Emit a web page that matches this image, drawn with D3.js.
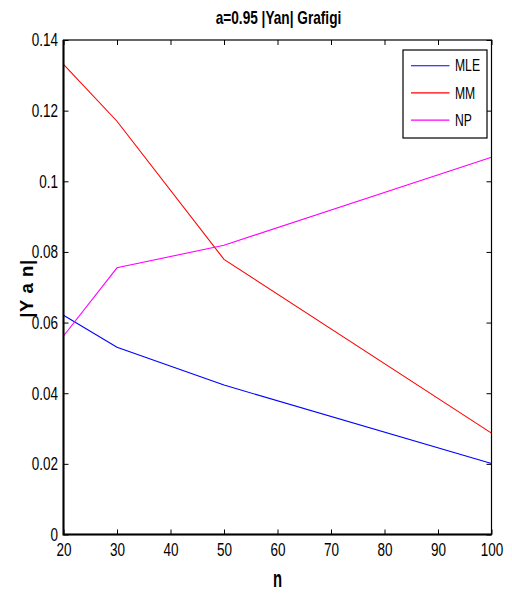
<!DOCTYPE html>
<html>
<head>
<meta charset="utf-8">
<script src="https://cdn.jsdelivr.net/npm/d3@7"></script>
<style>
  body { margin: 0; background: #fff; }
  text { font-family: "Liberation Sans", Arial, sans-serif; }
</style>
</head>
<body>
<svg id="chart" width="512" height="595"></svg>
<script>
// data
const nValues = [20, 30, 50, 100];
const mleValues = [0.0621, 0.0530, 0.0423, 0.0201];
const mmValues = [0.1331, 0.1170, 0.0779, 0.0287];
const npValues = [0.0562, 0.0755, 0.0819, 0.1068];
const seriesNames = ["MLE", "MM", "NP"];
const seriesColors = ["#0000ff", "#ff0000", "#ff00ff"];
const xTicks = [20, 30, 40, 50, 60, 70, 80, 90, 100];
const yTicks = [0, 0.02, 0.04, 0.06, 0.08, 0.1, 0.12, 0.14];

const margin = {top: 40, right: 20.5, bottom: 60.5, left: 63.5};
const width = 512, height = 595;
const sx = 0.73; // the reference font is narrow, squeeze the text sideways

const svg = d3.select("#chart");

const x = d3.scaleLinear().domain([20, 100]).range([margin.left, width - margin.right]);
const y = d3.scaleLinear().domain([0, 0.14]).range([height - margin.bottom, margin.top]);

const series = [mleValues, mmValues, npValues].map((vals, i) => ({
  name: seriesNames[i],
  color: seriesColors[i],
  points: vals.map((v, j) => ({n: nValues[j], v: v}))
}));

// put a text at (px, py), squeezed by k
function narrowText(px, py, k) {
  return svg.append("text")
    .attr("transform", `translate(${px}, ${py}) scale(${k}, 1)`);
}

// AXES (ticks inside, mirrored on top and right)
const tickLen = 5;
const xAxisGroup = svg.append("g")
  .attr("transform", `translate(0, ${y(0)})`)
  .call(d3.axisBottom(x).tickValues(xTicks).tickSize(-tickLen).tickPadding(8).tickFormat(d3.format("d")))
  .call(g => g.select(".domain").remove());

svg.append("g")
  .attr("transform", `translate(0, ${y(0.14)})`)
  .call(d3.axisTop(x).tickValues(xTicks).tickSize(-tickLen).tickFormat(""))
  .call(g => g.select(".domain").remove());

const yAxisGroup = svg.append("g")
  .attr("transform", `translate(${x(20)}, 0)`)
  .call(d3.axisLeft(y).tickValues(yTicks).tickSize(-tickLen).tickPadding(6).tickFormat(d => d === 0 ? "0" : d3.format(".2~f")(d)))
  .call(g => g.select(".domain").remove());

svg.append("g")
  .attr("transform", `translate(${x(100)}, 0)`)
  .call(d3.axisRight(y).tickValues(yTicks).tickSize(-tickLen).tickFormat(""))
  .call(g => g.select(".domain").remove());

svg.selectAll(".tick line").attr("stroke", "#000");

xAxisGroup.selectAll(".tick text")
  .attr("font-size", 18.5)
  .attr("fill", "#000")
  .attr("transform", `scale(${sx}, 1)`);

yAxisGroup.selectAll(".tick text")
  .attr("font-size", 18.5)
  .attr("fill", "#000")
  .attr("x", -5.5 / sx)
  .attr("transform", `scale(${sx}, 1)`);

// LINES
const line = d3.line().x(d => x(d.n)).y(d => y(d.v));
svg.selectAll("path.series")
  .data(series)
  .join("path")
  .attr("class", "series")
  .attr("d", d => line(d.points))
  .attr("fill", "none")
  .attr("stroke", d => d.color)
  .attr("stroke-width", 1.1);

// BOX
svg.append("rect")
  .attr("x", x(20))
  .attr("y", y(0.14))
  .attr("width", x(100) - x(20))
  .attr("height", y(0) - y(0.14))
  .attr("fill", "none")
  .attr("stroke", "#000")
  .attr("stroke-width", 1.2);
svg.append("path")
  .attr("d", `M${x(20)},${y(0.14)}V${y(0)}H${x(100)}`)
  .attr("fill", "none")
  .attr("stroke", "#000")
  .attr("stroke-width", 2);

// LEGEND
const legend = svg.append("g").attr("transform", "translate(403, 50)");
legend.append("rect")
  .attr("width", 84)
  .attr("height", 88)
  .attr("fill", "#fff")
  .attr("stroke", "#000")
  .attr("stroke-width", 1.2);
const items = legend.selectAll("g.item")
  .data(series)
  .join("g")
  .attr("class", "item")
  .attr("transform", (d, i) => `translate(0, ${15.7 + i * 27.2})`);
items.append("line")
  .attr("x1", 8).attr("x2", 46.5)
  .attr("stroke", d => d.color)
  .attr("stroke-width", 1.1);
items.append("text")
  .attr("transform", "translate(52, 0) scale(0.76, 1)")
  .attr("dy", "0.36em")
  .attr("font-size", 16)
  .text(d => d.name);

// TITLE AND LABELS
narrowText((x(20) + x(100)) / 2 + 1, 23.5, 0.78)
  .attr("text-anchor", "middle")
  .attr("font-size", 17.5)
  .attr("font-weight", "bold")
  .text("a=0.95 |Yan| Grafigi");

narrowText((x(20) + x(100)) / 2, 586.5, 0.62)
  .attr("text-anchor", "middle")
  .attr("font-size", 24)
  .attr("font-weight", "bold")
  .text("n");

svg.append("text")
  .attr("transform", `translate(33, 288.5) rotate(-90)`)
  .attr("text-anchor", "middle")
  .attr("font-size", 18.5)
  .attr("font-weight", "bold")
  .attr("letter-spacing", 0.6)
  .text("|Y a n|");
</script>
</body>
</html>
